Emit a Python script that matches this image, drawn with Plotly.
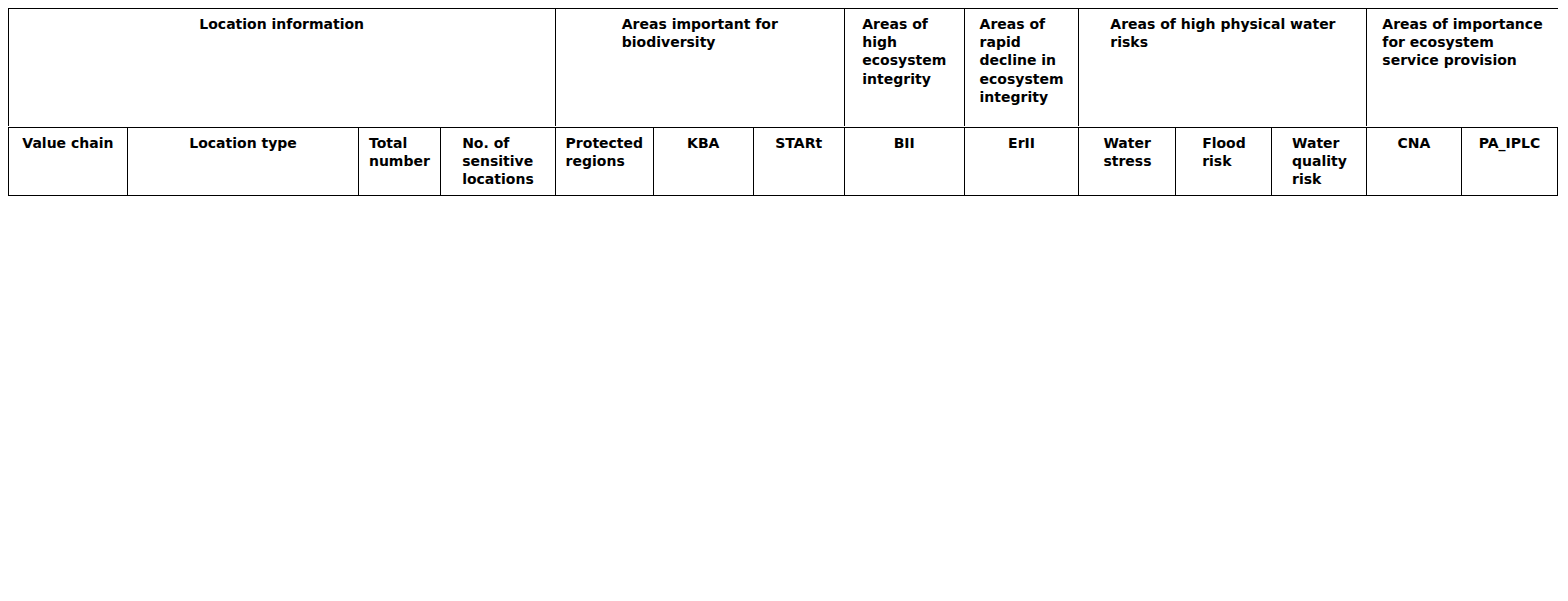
import plotly.graph_objects as go

groups = ["Location information", "Areas important for<br>biodiversity", "Areas of<br>high<br>ecosystem<br>integrity",
          "Areas of<br>rapid<br>decline in<br>ecosystem<br>integrity", "Areas of high physical water<br>risks",
          "Areas of importance<br>for ecosystem<br>service provision"]
group_widths = [553, 292, 121, 116, 291, 193]

columns = ["Value chain", "Location type", "Total<br>number", "No. of<br>sensitive<br>locations", "Protected<br>regions",
           "KBA", "STARt", "BII", "ErII", "Water<br>stress", "Flood risk", "Water<br>quality<br>risk", "CNA", "PA_IPLC"]
col_widths = [121, 233, 83, 116, 99, 101, 92, 121, 116, 98, 97, 96, 95, 98]

value_chain = ["Direct<br>operations"] * 3 + ["Upstream"] * 10 + [""]
location_type = ["Main development bases<br>and offices", "Main data centers", "Manufacturing bases", "Zinc mines",
                 "Gold mines", "Silver mines", "Oil fields", "Iron ore mines", "Natural gas production",
                 "Copper mines", "Nickel mines", "Bauxite mines", "Coal mines", "Total"]
total_number = [13, 18, 20, 24, 243, 108, 11, 15, 252, 28, 34, 12, 51, 829]
sensitive = [13, 18, 19, 18, 185, 84, 4, 10, 179, 21, 30, 11, 40, 632]
protected = [12, 18, 18, 11, 137, 45, 3, 8, 112, 10, 22, 5, 32, 433]
kba = [12, 14, 18, 11, 67, 51, 2, 2, 22, 13, 18, 5, 15, 250]
start = [1, 0, 1, 3, 14, 10, 0, 1, 0, 4, 6, 2, 0, 42]
bii = [1, 2, 1, 0, 41, 22, 2, 0, 27, 5, 15, 2, 5, 123]
erii = [0] * 14
water_stress = [0, 0, 0, 1, 7, 2, 1, 0, 4, 3, 0, 0, 0, 18]
flood = [0, 0, 3, 0, 0, 0, 0, 0, 10, 0, 0, 0, 0, 13]
water_quality = [0, 1, 0, 0, 2, 0, 0, 0, 0, 0, 0, 0, 0, 3]
cna = [1, 0, 2, 7, 36, 22, 0, 4, 56, 4, 5, 5, 10, 152]
pa_iplc = [0, 0, 0, 1, 6, 2, 0, 0, 0, 0, 1, 1, 0, 11]

W, H = 1550, 585
font = dict(family="DejaVu Sans", size=14, color="black")
line = dict(color="black", width=1)
top_px = 119
top_h = top_px / H

fig = go.Figure()
fig.add_trace(go.Table(
    domain=dict(x=[0, 1], y=[1 - top_h, 1]),
    columnwidth=group_widths,
    header=dict(values=["<b>" + g + "</b>" for g in groups], height=top_px - 1, align="center",
                fill_color="white", line=line, font=font),
))

nums = [total_number, sensitive, protected, kba, start, bii, erii, water_stress, flood,
        water_quality, cna, pa_iplc]
cell_vals = [["<b>" + v + "</b>" for v in value_chain],
             ["<b>" + v + "</b>" for v in location_type]] + [[str(x) for x in col] for col in nums]
fig.add_trace(go.Table(
    domain=dict(x=[0, 1], y=[0, 1 - top_h]),
    columnwidth=col_widths,
    header=dict(values=["<b>" + c + "</b>" for c in columns], height=68, align="center",
                fill_color="white", line=line, font=font),
    cells=dict(values=cell_vals, height=23,
               align=["left", "left"] + ["right"] * 12,
               fill_color="white", line=line, font=font),
))
fig.update_layout(width=W, height=H, margin=dict(l=0, r=0, t=0, b=0),
                  paper_bgcolor="white")
fig.write_html("out.html")
